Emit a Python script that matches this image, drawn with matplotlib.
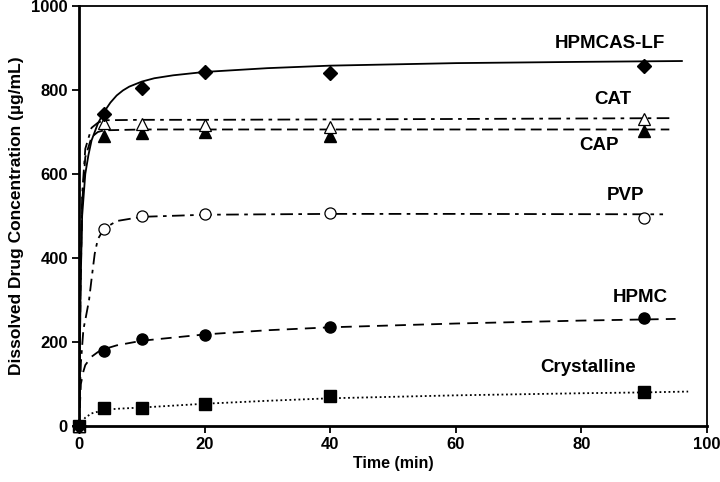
import matplotlib
matplotlib.use("Agg")
import matplotlib.pyplot as plt

plt.rcParams['font.family'] = ['Liberation Sans', 'DejaVu Sans']
plt.rcParams['font.weight'] = 'bold'

# measured points
t_pts = [0, 4, 10, 20, 40, 90]
hpmcas_pts = [0, 742, 805, 843, 840, 856]
cat_pts = [0, 721, 720, 717, 712, 732]
cap_pts = [0, 690, 698, 700, 690, 702]
pvp_pts = [0, 468, 500, 505, 507, 496]
hpmc_pts = [0, 179, 207, 217, 236, 258]
cryst_pts = [0, 43, 43, 52, 71, 81]

# fitted curves
hpmcas_ft = [0, 0.25, 0.5, 1, 1.5, 2, 3, 4, 5, 6, 7, 8, 10, 12, 15, 20, 30, 40, 60, 80, 96]
hpmcas_fy = [0, 330, 500, 600, 645, 680, 720, 748, 770, 787, 799, 808, 820, 828, 835, 843, 852, 858, 864, 867, 869]
cat_ft = [0, 0.25, 0.5, 1, 2, 3, 4, 10, 20, 40, 60, 94]
cat_fy = [0, 350, 550, 660, 710, 722, 728, 729, 729, 730, 731, 733]
cap_ft = [0, 0.25, 0.5, 1, 2, 3, 4, 10, 40, 94]
cap_fy = [0, 330, 530, 640, 688, 700, 704, 706, 706, 706]
pvp_ft = [0, 0.3, 0.7, 1.1, 1.6, 2, 2.5, 3, 4, 6, 10, 20, 40, 60, 93]
pvp_fy = [0, 150, 230, 260, 300, 350, 410, 445, 470, 488, 498, 503, 505, 505, 504]
hpmc_ft = [0, 0.3, 0.7, 1, 2, 3, 4, 6, 10, 20, 30, 40, 60, 80, 95]
hpmc_fy = [0, 100, 130, 145, 165, 176, 183, 192, 203, 218, 228, 235, 244, 251, 255]
cryst_ft = [0, 1, 2, 4, 6, 10, 20, 30, 40, 60, 80, 90, 97]
cryst_fy = [0, 20, 30, 38, 41, 44, 53, 60, 66, 73, 78, 80, 82]

labels = ['HPMCAS-LF', 'CAT', 'CAP', 'PVP', 'HPMC', 'Crystalline']
label_pos = [(610, 44), (613, 100), (599, 146), (626, 196), (640, 298), (588, 368)]

fig = plt.figure(figsize=(7.2, 4.82), dpi=100)
ax = fig.add_axes([79/720, 1-426/482, (707-79)/720, (426-6)/482])

lw = 1.3
ax.plot(hpmcas_ft, hpmcas_fy, color='black', lw=lw, ls='-')
ax.plot(cat_ft, cat_fy, color='black', lw=lw, dashes=(7, 3, 2, 3))
ax.plot(cap_ft, cap_fy, color='black', lw=lw, dashes=(6, 3))
ax.plot(pvp_ft, pvp_fy, color='black', lw=lw, dashes=(7, 3, 2, 3))
ax.plot(hpmc_ft, hpmc_fy, color='black', lw=lw, dashes=(6, 4))
ax.plot(cryst_ft, cryst_fy, color='black', lw=lw, dashes=(1, 1.5))

ms = 7
ax.plot(t_pts, cryst_pts, ls='none', marker='s', ms=ms+1, mfc='black', mec='black', clip_on=False, zorder=5)
ax.plot(t_pts, hpmc_pts, ls='none', marker='o', ms=ms+1, mfc='black', mec='black', clip_on=False, zorder=5)
ax.plot(t_pts, pvp_pts, ls='none', marker='o', ms=ms+1, mfc='white', mec='black', mew=0.9, clip_on=False, zorder=5)
ax.plot(t_pts, cap_pts, ls='none', marker='^', ms=ms+1, mfc='black', mec='black', clip_on=False, zorder=5)
ax.plot(t_pts, cat_pts, ls='none', marker='^', ms=ms+1, mfc='white', mec='black', mew=0.9, clip_on=False, zorder=5)
ax.plot(t_pts, hpmcas_pts, ls='none', marker='D', ms=ms, mfc='black', mec='black', clip_on=False, zorder=5)

for lab, (px, py) in zip(labels, label_pos):
    fig.text(px/720, 1-py/482, lab, ha='center', va='center', fontsize=13.5, fontweight='bold')

ax.set_xlim(0, 100)
ax.set_ylim(0, 1000)
ax.set_xticks([0, 20, 40, 60, 80, 100])
ax.set_yticks([0, 200, 400, 600, 800, 1000])
ax.tick_params(direction='out', length=5, width=1.3, labelsize=12, pad=3)
for lab in ax.get_xticklabels() + ax.get_yticklabels():
    lab.set_fontweight('bold')
for s in ax.spines.values():
    s.set_linewidth(1.3)
ax.spines['left'].set_linewidth(2)
ax.spines['bottom'].set_linewidth(2)
ax.set_xlabel('Time (min)', fontsize=11.5, fontweight='bold', labelpad=3)
ax.set_ylabel('Dissolved Drug Concentration (µg/mL)', fontsize=12.5, fontweight='bold', labelpad=5)

fig.savefig('out.png', dpi=100)
